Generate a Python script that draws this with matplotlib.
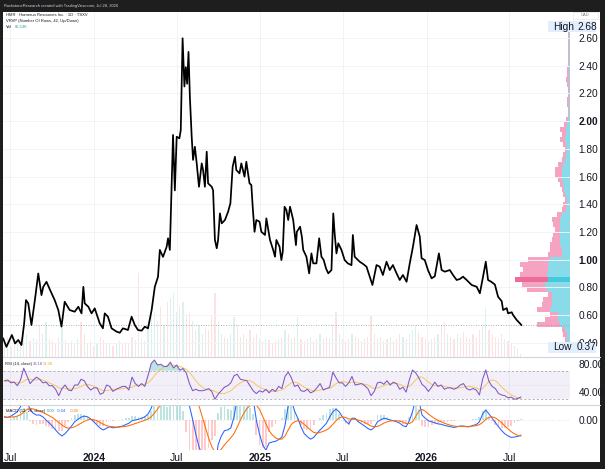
import numpy as np
import pandas as pd
import matplotlib
matplotlib.use("Agg")
import matplotlib.pyplot as plt
from matplotlib.patches import Rectangle
from matplotlib.lines import Line2D

plt.rcParams['font.family'] = ['Liberation Sans', 'DejaVu Sans']

# ---------------- data ----------------
price_dates = [
 "2023-06-16","2023-06-23","2023-07-05","2023-07-12","2023-07-19","2023-07-26","2023-08-01","2023-08-05",
 "2023-08-10","2023-08-17","2023-08-25","2023-09-01","2023-09-08","2023-09-12","2023-09-19","2023-09-27",
 "2023-10-07","2023-10-15","2023-10-22","2023-10-29","2023-11-09","2023-11-20","2023-11-28","2023-12-05",
 "2023-12-09","2023-12-12","2023-12-20","2023-12-27","2024-01-03","2024-01-14","2024-01-21","2024-01-25",
 "2024-02-01","2024-02-09","2024-02-20","2024-02-27","2024-03-05","2024-03-16","2024-03-24","2024-03-31",
 "2024-04-07","2024-04-15","2024-04-22","2024-04-29","2024-05-07","2024-05-14","2024-05-21","2024-05-25",
 "2024-06-01","2024-06-09","2024-06-12","2024-06-16","2024-06-23","2024-06-27","2024-07-01","2024-07-07",
 "2024-07-10","2024-07-14","2024-07-18","2024-07-21","2024-07-24","2024-07-27","2024-07-30","2024-08-03",
 "2024-08-06","2024-08-10","2024-08-14","2024-08-19","2024-08-25","2024-08-28","2024-09-01","2024-09-05",
 "2024-09-08","2024-09-16","2024-09-19","2024-09-23","2024-09-27","2024-09-30","2024-10-04","2024-10-08",
 "2024-10-15","2024-10-22","2024-10-27","2024-11-01","2024-11-06","2024-11-09","2024-11-16","2024-11-20",
 "2024-11-27","2024-12-01","2024-12-08","2024-12-12","2024-12-15","2024-12-19","2024-12-23","2024-12-30",
 "2025-01-03","2025-01-11","2025-01-14","2025-01-22","2025-01-29","2025-02-02","2025-02-05","2025-02-12",
 "2025-02-16","2025-02-19","2025-02-23","2025-02-27","2025-03-03","2025-03-07","2025-03-14","2025-03-20",
 "2025-03-22","2025-03-29","2025-04-02","2025-04-05","2025-04-12","2025-04-18","2025-04-23","2025-04-27",
 "2025-05-04","2025-05-10","2025-05-15","2025-05-20","2025-05-25","2025-05-30","2025-06-06","2025-06-10",
 "2025-06-13","2025-06-17","2025-06-21","2025-06-28","2025-07-05","2025-07-12","2025-07-20","2025-07-23",
 "2025-07-27","2025-08-07","2025-08-14","2025-08-22","2025-08-29","2025-09-04","2025-09-13","2025-09-20",
 "2025-09-27","2025-10-05","2025-10-12","2025-10-19","2025-10-27","2025-11-03","2025-11-10","2025-11-18",
 "2025-11-25","2025-12-02","2025-12-10","2025-12-17","2025-12-21","2025-12-28","2026-01-04","2026-01-12",
 "2026-01-19","2026-01-28","2026-02-03","2026-02-10","2026-02-21","2026-02-28","2026-03-08","2026-03-15",
 "2026-03-22","2026-03-30","2026-04-10","2026-04-21","2026-04-28","2026-05-05","2026-05-11","2026-05-16",
 "2026-05-23","2026-05-31","2026-06-07","2026-06-15","2026-06-18","2026-06-26","2026-06-29","2026-07-07",
 "2026-07-10","2026-07-18","2026-07-25","2026-07-28"]
close = [
 0.43,0.37,0.456,0.395,0.42,0.383,0.54,0.708,
 0.684,0.528,0.72,0.90,0.744,0.804,0.84,0.78,
 0.708,0.636,0.516,0.696,0.636,0.624,0.66,0.612,
 0.804,0.684,0.66,0.612,0.648,0.54,0.504,0.612,
 0.588,0.504,0.48,0.472,0.504,0.492,0.588,0.528,
 0.492,0.487,0.516,0.504,0.636,0.804,0.876,1.07,
 1.02,1.093,1.154,1.07,1.90,1.50,1.887,1.876,
 1.936,2.598,2.25,2.39,2.27,2.50,2.176,1.887,
 1.72,1.815,1.695,1.526,1.695,1.647,1.526,1.779,
 1.551,1.526,1.50,1.142,1.082,1.142,1.334,1.262,
 1.286,1.346,1.406,1.671,1.743,1.647,1.623,1.695,
 1.599,1.707,1.551,1.539,1.382,1.201,1.286,1.274,
 1.201,1.178,1.298,1.142,1.07,1.021,1.142,1.093,
 0.997,1.057,1.382,1.358,1.286,1.382,1.286,1.105,
 1.201,1.238,1.166,1.07,1.021,0.901,1.045,0.973,
 0.973,1.154,1.021,0.997,0.937,0.901,0.925,1.334,
 1.19,1.045,1.118,1.07,0.997,0.973,0.96,1.178,
 1.021,0.985,0.97,0.949,0.877,0.817,0.961,0.949,
 0.889,0.985,0.925,0.961,0.901,0.853,0.889,0.84,
 0.973,1.093,1.25,1.166,1.01,0.997,0.925,0.865,
 0.88,1.045,0.925,0.913,0.925,0.889,0.853,0.86,
 0.877,0.853,0.817,0.804,0.757,0.877,0.985,0.853,
 0.84,0.82,0.732,0.70,0.636,0.65,0.612,0.62,
 0.60,0.564,0.54,0.528]

# weekly indicator samples (Mondays)
ind_start, ind_end = "2023-06-19", "2026-07-27"

volume_k = [
 300,450,250,350,280,400,600,500,350,420,
 380,700,500,770,400,350,300,450,640,380,
 300,350,280,400,770,500,300,350,250,300,
 450,380,300,280,250,300,350,280,320,300,
 450,380,1850,400,350,700,900,1000,800,1100,
 700,1200,1300,1400,1000,1100,1200,900,1000,800,
 600,700,500,650,600,900,1400,800,500,450,
 400,500,880,700,450,500,400,600,450,500,
 400,350,400,380,300,350,400,450,600,500,
 400,450,880,400,350,400,450,350,400,500,
 400,450,400,700,990,500,400,350,400,500,
 450,400,350,400,450,920,500,400,450,350,
 400,450,350,400,500,450,400,500,600,700,
 550,450,400,350,400,450,500,700,770,500,
 450,400,500,450,550,450,400,500,450,600,
 700,1080,600,500,450,400,500,400,350,300,
 250,200,67]
volume_dir = ("ududud" "uu" "duuduudddd" "uddududdud" "duddduduud" "dudududuuu"
              "ududuuudud" "duduuddddu" "uduuududud" "ddududddud" "udududddud"
              "dudddududd" "duddddddud" "dududddudu" "uuddddudud" "dudduddddd"
              "dduudddddu" "ddudd")

rsi = [
 56,57,53,54,49,57,73.5,63,52,57,
 61,58,53,54,49,49,44,35,45,50,
 43,42,50,50,58,56,48,43,46,46,
 37,39,50,48,41,44,46,48,48,43,
 61,52,48,52,48,63,80,85,78,79,
 76,76,82,74,78,71,73,67,52,42,
 44,42,42,43,45,41,30,37,42,47,
 49,53,63,65,58,57,56,49,42,38,
 42,40,44,39,44,41,48,45,62,68,
 60,48,50,42,41,44,39,41,46,52,
 43,45,47,68,60,53,53,48,53,62,
 50,51,52,49,45,35,41,53,54,51,
 56,50,54,52,44,47,40,57,71,67,
 60,51,47,41,47,54,48,50,44,46,
 46,44,46,50,52,45,43,45,43,36,
 58,71,55,48,45,38,36,35,32,33,
 30,31,33.18]
rsi_ma = [
 55,55,55,54,53,53, 55,58,58,57,57,58, 57,55,53,51,49,46,
 45,45,45,44,45,46, 48,50,51,50,48,46, 44,42,42,43,44,44,
 44,45,46,46,47,49, 50,50,51,53,57,63, 68,72,75,77,78,78,
 77,76,74,72,68,62, 56,51,47,44,43,43, 41,39,38,38,40,42,
 46,50,53,55,57,56, 54,50,47,45,43,42, 41,41,42,43,46,50,
 53,54,53,50,47,45, 43,42,42,43,44,45, 45,48,52,54,55,54,
 53,54,54,53,52,51, 50,47,45,46,47,49, 51,52,52,52,51,49,
 47,48,52,57,61,61, 58,54,51,49,49,49, 48,47,46,46,46,46,
 47,48,48,47,46,44, 45,50,55,57,56,52, 47,43,39,36,34,32,31.08]

macd_milli = [
 9,7,11,17,23,38,55,52,30,19,
 14,14,9,0,-8,-17,-28,-38,-45,-38,
 -28,-17,-5,2,8,11,9,3,-5,-14,
 -23,-28,-23,-19,-22,-21,-19,-17,-13,-9,
 -2,0,2,5,9,17,33,60,80,90,
 95,100,150,250,280,250,190,120,40,2,
 -40,-75,-100,-120,-130,-130,-135,-70,-45,-30,
 -28,-22,9,60,90,95,85,75,60,0,
 -40,-70,-85,-65,-62,-60,-55,-48,-15,40,
 55,25,5,-19,-38,-47,-54,-49,-38,-28,
 -19,-9,8,23,31,23,9,-3,-11,5,
 5,-5,-11,-17,-24,-28,-21,-5,0,5,
 3,0,-2,-5,-9,-16,-19,-2,23,60,
 55,14,5,-2,-5,-8,-11,-12,-15,-17,
 -19,-21,-19,-17,-17,-19,-19,-15,-13,-5,
 17,28,17,5,-7,-19,-30,-39,-45,-49,
 -48,-46,-43]
signal_milli = [
 8,8,8,9,11,15, 22,30,33,31,28,25, 21,17,12,7,0,-7,
 -14,-20,-23,-22,-19,-14, -9,-4,0,2,1,-2, -7,-12,-16,-18,-19,-20,
 -20,-19,-18,-16,-13,-10, -7,-4,-1,3,9,19, 31,43,54,62,80,110,
 140,160,165,155,135,105, 75,40,10,-20,-50,-75, -90,-90,-82,-70,-60,-50,
 -38,-20,0,18,32,40, 44,42,30,10,-10,-30, -42,-50,-54,-54,-45,-28,
 -12,-5,-2,-5,-12,-20, -28,-35,-37,-35,-32,-28, -22,-12,-2,6,9,7,
 3,2,2,0,-3,-7, -12,-17,-19,-18,-14,-9, -5,-3,-2,-2,-3,-6,
 -10,-10,-5,10,25,30, 25,17,10,4,-1,-5, -9,-12,-15,-17,-18,-18,
 -18,-18,-18,-17,-16,-13, -7,2,8,9,6,0, -8,-17,-25,-33,-39,-43,-45]
hist_milli = [
 1,-1,3,8,12,23,33,22,-3,-12,
 -14,-11,-12,-17,-20,-24,-28,-31,-31,-18,
 -5,5,14,16,17,15,9,1,-6,-12,
 -16,-16,-7,-1,-3,-1,1,2,5,7,
 11,10,9,9,10,14,24,41,49,47,
 41,38,70,140,140,90,25,-35,-95,-103,
 -115,-115,-110,-100,-80,-55,-45,20,37,40,
 32,28,47,80,90,77,53,35,16,-42,
 -70,-80,-75,-35,-20,-10,-1,6,30,68,
 67,30,7,-14,-26,-27,-26,-14,-1,7,
 13,19,30,35,33,17,0,-10,-14,3,
 3,-5,-8,-10,-12,-11,-2,13,14,14,
 8,3,0,-3,-6,-10,-9,8,28,50,
 30,-16,-20,-19,-15,-12,-10,-7,-6,-5,
 -4,-4,-1,1,1,-1,-1,2,3,8,
 24,30,9,-4,-13,-19,-22,-22,-20,-16,
 -9,-3,2]

# Visible-range volume profile (rows from low 0.37 to high 2.68)
vp_low, vp_high = 0.37, 2.68
vp_up = [3,8,10,15,30,35,35,60,55,55,55,70,75,65,70,65,65,60,25,25,30,30,30,30,30,30,25,12,10,8,
         15,18,20,25,25,25,20,15,12,8,12,15,12,12,8,6,
         3,3,3,4,3,3,3,4,4,3,3,3,3,3,2,2,2,2]
vp_down = [3,8,10,10,70,40,25,40,30,25,10,60,70,100,80,75,85,65,40,35,30,25,20,15,20,25,15,13,10,7,
           7,7,10,10,20,20,15,10,10,7,10,15,13,18,10,6,
           4,4,5,5,4,4,6,7,6,5,4,4,4,3,3,3,3,3]

price_ticks = [0.40,0.60,0.80,1.00,1.20,1.40,1.60,1.80,2.00,2.20,2.40,2.60]
x_tick_dates = ["2023-07-01","2024-01-01","2024-07-01","2025-01-01","2025-07-01","2026-01-01","2026-07-01"]
x_tick_labels = ["Jul","2024","Jul","2025","Jul","2026","Jul"]

# ---------------- figure ----------------
W, H = 605, 469
fig = plt.figure(figsize=(W/100, H/100), dpi=100, facecolor="#1e1e1e")

def fx(px): return px / W
def fy(py): return 1 - py / H

fig.patches.append(Rectangle((fx(3), fy(462)), fx(600)-fx(3), fy(12)-fy(462),
                             transform=fig.transFigure, facecolor="white", edgecolor="none", zorder=-5))

L, R = 3, 570
def axes_at(top, bot):
    a = fig.add_axes([fx(L), fy(bot), fx(R)-fx(L), fy(top)-fy(bot)])
    a.set_facecolor("none")
    for s in a.spines.values():
        s.set_visible(False)
    return a

ax = axes_at(12, 357)
ax_rsi = axes_at(358, 404)
ax_macd = axes_at(405, 450)

pdates = pd.to_datetime(price_dates)
idates = pd.date_range(ind_start, ind_end, freq="7D")
assert len(idates) == len(rsi) == len(rsi_ma) == len(macd_milli) == len(signal_milli) == len(hist_milli) == len(volume_k) == len(volume_dir)

xmin, xmax = pd.Timestamp("2023-06-15 12:00"), pd.Timestamp("2026-11-12")
tick_dates = pd.to_datetime(x_tick_dates)
grid_c = "#f0f3fa"
text_c = "#131722"

# main pane
ax.set_xlim(xmin, xmax)
ax.set_ylim(0.297, 2.788)
for t in tick_dates:
    ax.axvline(t, color=grid_c, lw=0.7, zorder=0)
for p in price_ticks:
    ax.axhline(p, color=grid_c, lw=0.7, zorder=0)

# volume
axv = ax.twinx()
axv.set_ylim(0, 7590)
axv.set_xlim(xmin, xmax)
vcols = ["#26a69a" if d == "u" else "#ef5350" for d in volume_dir]
axv.bar(idates, volume_k, width=2.6, color=vcols, alpha=0.16, linewidth=0)
axv.axis("off")

# volume profile
axp = ax.twiny()
nrows = len(vp_up)
edges = np.linspace(vp_low, vp_high, nrows + 1)
centers = (edges[:-1] + edges[1:]) / 2
hgt = (edges[1] - edges[0]) * 0.86
tot = np.array(vp_up) + np.array(vp_down)
poc = int(np.argmax(tot))
up_c = ["#47c9dd" if i == poc else "#8adbea" for i in range(nrows)]
dn_c = ["#ec6b98" if i == poc else "#f5a3c1" for i in range(nrows)]
axp.barh(centers, vp_up, height=hgt, left=0, color=up_c, linewidth=0)
axp.barh(centers, vp_down, height=hgt, left=vp_up, color=dn_c, linewidth=0)
axp.set_xlim(tot.max() * 567 / 55.0, 0)
axp.axis("off")

ax.set_zorder(axp.get_zorder() + 2)
ax.patch.set_visible(False)
ax.plot(pdates, close, color="#000000", lw=1.25, zorder=5, solid_joinstyle="round")
ax.axhline(close[-1], color="#9598a1", lw=0.6, ls=(0, (1, 2)), zorder=3)

ax.yaxis.tick_right()
ax.set_yticks(price_ticks, [f"{p:.2f}" for p in price_ticks])
ax.tick_params(axis="y", length=0, pad=6, labelsize=7.3, labelcolor=text_c)
for lbl in ax.get_yticklabels():
    if lbl.get_text() in ("1.00", "2.00"):
        lbl.set_fontweight("bold")
ax.set_xticks([])

# RSI pane
ax_rsi.set_xlim(xmin, xmax)
ax_rsi.set_ylim(23.4, 87.8)
for t in tick_dates:
    ax_rsi.axvline(t, color=grid_c, lw=0.7, zorder=0)
ax_rsi.axhspan(30, 70, color="#7e57c2", alpha=0.09, lw=0)
ax_rsi.axhline(70, color="#9598a1", lw=0.5, ls=(0, (3, 3)))
ax_rsi.axhline(30, color="#9598a1", lw=0.5, ls=(0, (3, 3)))
ax_rsi.axhline(50, color="#9598a1", lw=0.4, ls=(0, (1, 3)), alpha=0.6)
r = np.array(rsi, dtype=float)
ax_rsi.fill_between(idates, 70, r, where=r > 70, interpolate=True, color="#26a69a", alpha=0.3, lw=0)
ax_rsi.fill_between(idates, 30, r, where=r < 30, interpolate=True, color="#ef5350", alpha=0.3, lw=0)
ax_rsi.plot(idates, rsi_ma, color="#f4c860", lw=0.7)
ax_rsi.plot(idates, rsi, color="#7e57c2", lw=0.75)
ax_rsi.yaxis.tick_right()
ax_rsi.set_yticks([40, 80], ["40.00", "80.00"])
ax_rsi.tick_params(axis="y", length=0, pad=6, labelsize=7.3, labelcolor=text_c)
ax_rsi.set_xticks([])

# MACD pane
ax_macd.set_xlim(xmin, xmax)
ax_macd.set_ylim(-0.0845, 0.0423)
for t in tick_dates:
    ax_macd.axvline(t, color=grid_c, lw=0.7, zorder=0)
ax_macd.axhline(0, color="#9598a1", lw=0.4, ls=(0, (1, 3)), alpha=0.7)
hist = np.array(hist_milli) / 1000.0
hcols = ["#26a69a" if h >= 0 else "#ff5252" for h in hist]
ax_macd.bar(idates, hist, width=4, color=hcols, alpha=0.3, linewidth=0)
ax_macd.plot(idates, np.array(macd_milli) / 1000.0, color="#2962ff", lw=0.75)
ax_macd.plot(idates, np.array(signal_milli) / 1000.0, color="#ff6d00", lw=0.75)
ax_macd.yaxis.tick_right()
ax_macd.set_yticks([0.0], ["0.00"])
ax_macd.tick_params(axis="y", length=0, pad=6, labelsize=7.3, labelcolor=text_c)
ax_macd.set_xticks(tick_dates, x_tick_labels)
ax_macd.tick_params(axis="x", length=0, pad=2, labelsize=7.5, labelcolor=text_c)
for lbl in ax_macd.get_xticklabels():
    if lbl.get_text().isdigit():
        lbl.set_fontweight("bold")

# pane separators
for yy in (357.5, 404.5):
    fig.add_artist(Line2D([fx(3), fx(600)], [fy(yy), fy(yy)], transform=fig.transFigure,
                          color="#d1d4dc", lw=0.8))

# header texts
fs = 3.0
fig.text(fx(4), fy(5.5), "RockstoneResearch created with TradingView.com, Jul 28, 2026",
         color="#d1d4dc", fontsize=2.9, va="center", ha="left")
fig.text(fx(6), fy(15), "HMR · Homerun Resources Inc. · 1D · TSXV", color=text_c, fontsize=fs, va="center")
fig.text(fx(6), fy(21), "VRVP (Number Of Rows, 42, Up/Down)", color=text_c, fontsize=fs, va="center")
fig.text(fx(6), fy(27), "Vol", color=text_c, fontsize=fs, va="center")
fig.text(fx(15), fy(27), "66.53K", color="#26a69a", fontsize=fs, va="center")

fig.text(fx(5), fy(363.5), "RSI (14, close)", color=text_c, fontsize=fs, va="center")
fig.text(fx(33), fy(363.5), "33.18", color="#7e57c2", fontsize=fs, va="center")
fig.text(fx(43), fy(363.5), "31.08", color="#e0b040", fontsize=fs, va="center")

fig.text(fx(6), fy(411), "MACD (12, 26, close)", color=text_c, fontsize=fs, va="center")
fig.text(fx(47), fy(411), "0.00", color="#26a69a", fontsize=fs, va="center")
fig.text(fx(57), fy(411), "-0.04", color="#2962ff", fontsize=fs, va="center")
fig.text(fx(70), fy(411), "-0.05", color="#ff6d00", fontsize=fs, va="center")

# CAD box
fig.patches.append(Rectangle((fx(573), fy(19)), fx(25), fy(12)-fy(19), transform=fig.transFigure,
                             facecolor="white", edgecolor="#e0e3eb", lw=0.5, zorder=3))
fig.text(fx(585), fy(15.5), "CAD", color="#787b86", fontsize=3.0, ha="center", va="center", zorder=4)

# High / Low boxes
for (yc, lab, val) in ((27, "High", "2.68"), (347.5, "Low", "0.37")):
    fig.patches.append(Rectangle((fx(548), fy(yc + 5.5)), fx(48), fy(0) - fy(11), transform=fig.transFigure,
                                 facecolor="#e3eefc", edgecolor="none", zorder=3))
    fig.text(fx(553), fy(yc), lab, color=text_c, fontsize=7.3, va="center", ha="left", zorder=4)
    fig.text(fx(577), fy(yc), val, color=text_c, fontsize=7.3, va="center", ha="left", zorder=4)

fig.savefig("out.png", dpi=100, facecolor=fig.get_facecolor())
